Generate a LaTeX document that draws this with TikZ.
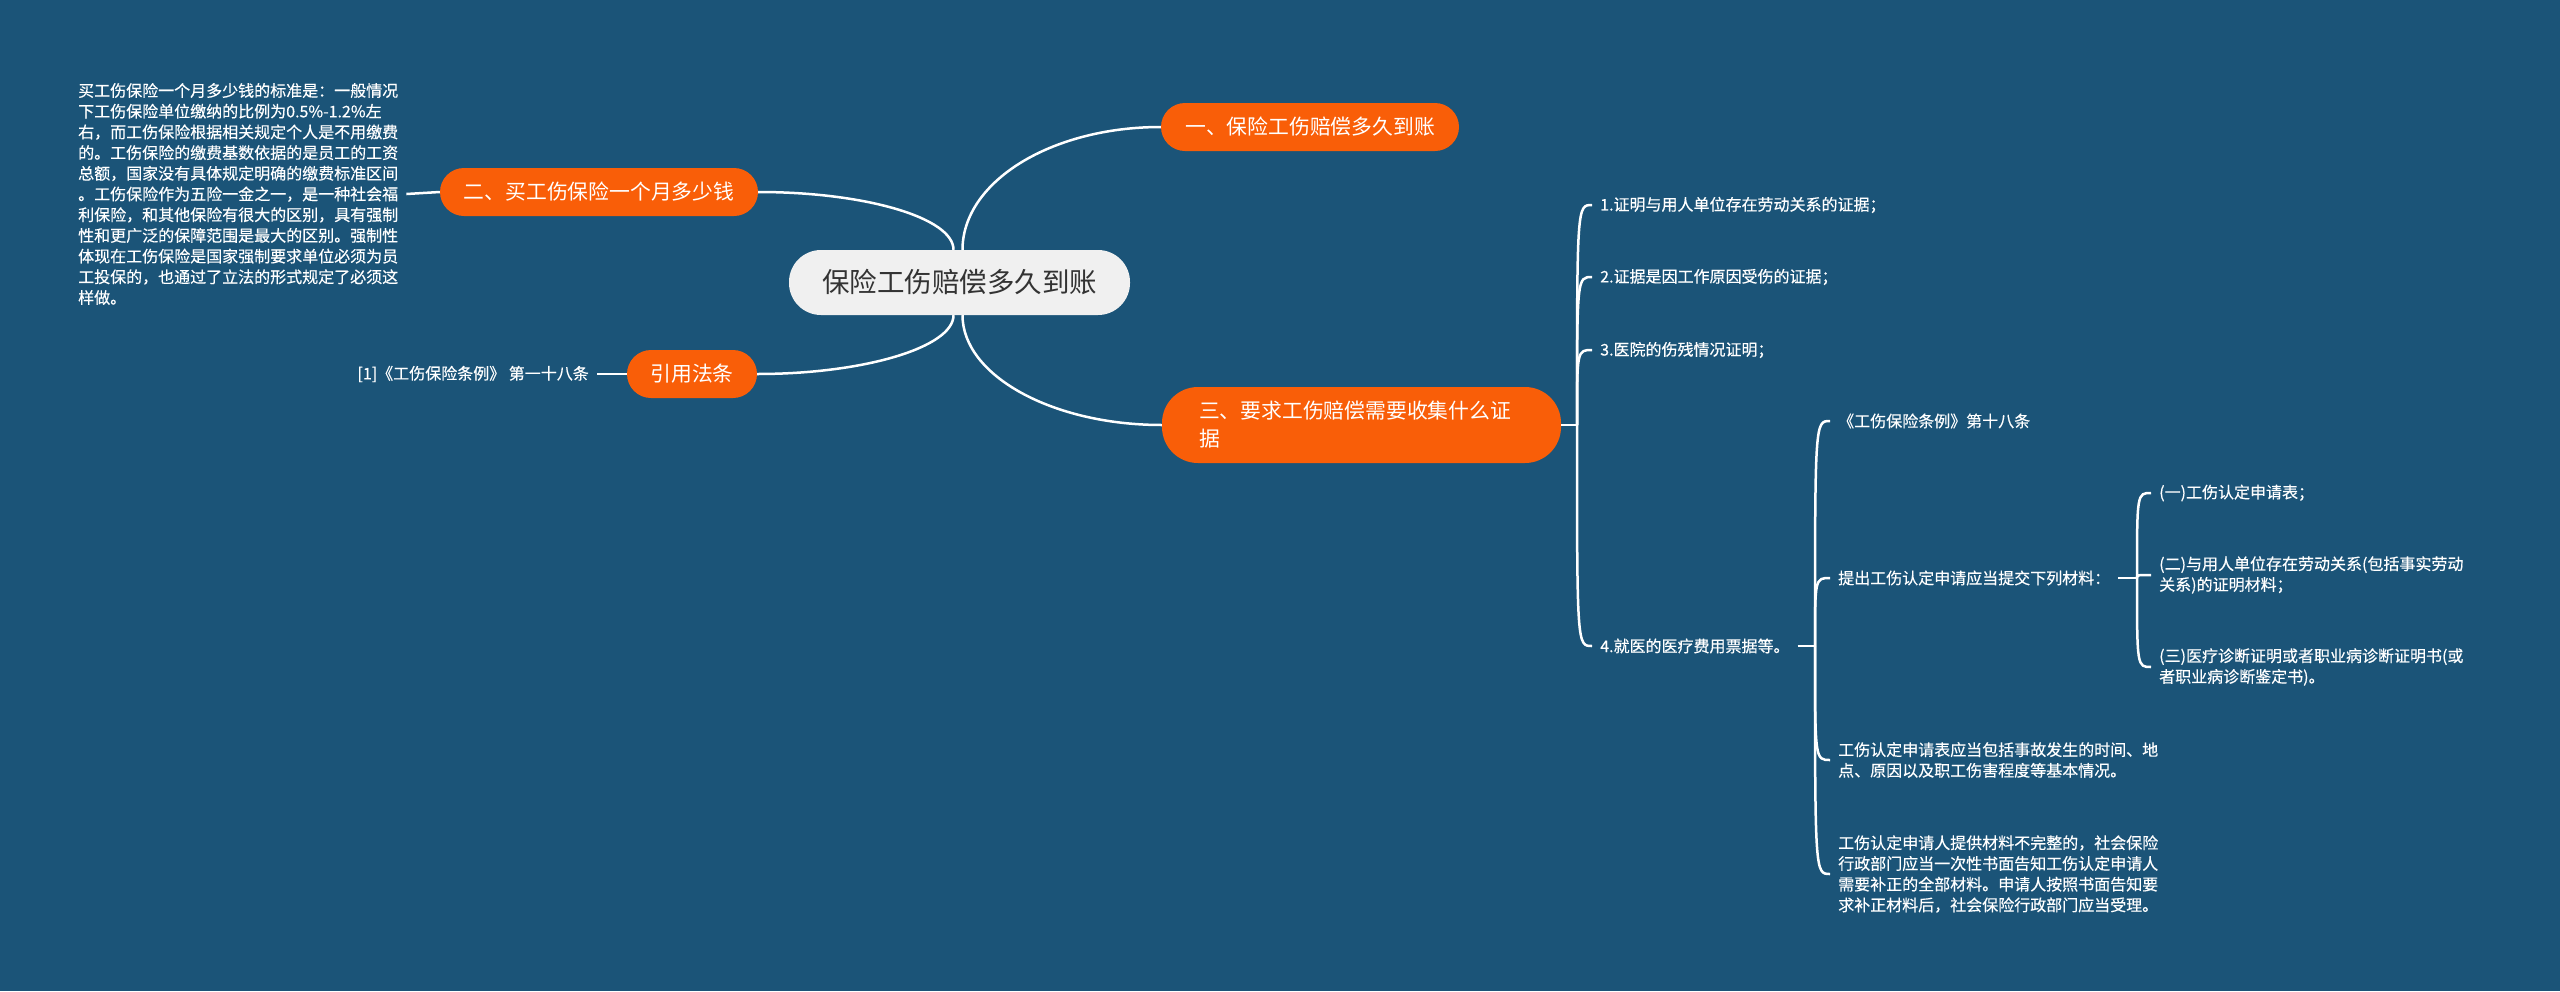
\documentclass[tikz,border=0pt]{standalone}
\usepackage{fontspec}
\setmainfont{Noto Sans CJK SC}
\newfontfamily\leaffont[FakeBold=0.35]{Noto Sans CJK SC}
\definecolor{bg}{RGB}{27,84,120}
\definecolor{orng}{RGB}{249,94,8}
\definecolor{rootgray}{RGB}{240,240,240}
\definecolor{roottext}{RGB}{51,51,51}
\begin{document}
\begin{tikzpicture}[x=1pt,y=-1pt,
  link/.style={draw=white, line width=2.5pt},
  root/.style={fill=rootgray, rounded corners=32pt, minimum width=341pt, minimum height=65pt, text=roottext, font=\fontsize{27.5}{33}\selectfont, inner sep=0pt},
  branch/.style={fill=orng, rounded corners=24pt, minimum height=48pt, text=white, font=\fontsize{20.8}{28}\selectfont, inner sep=0pt},
  leaf/.style={text=white, font=\leaffont\fontsize{16}{20.7}\selectfont, align=left, inner xsep=8pt, inner ysep=2pt},
]
\useasboundingbox (0,0) rectangle (2560,991);
\fill[bg] (0,0) rectangle (2560,991);

% main nodes
\node[root] (c) at (959.5,282.5) {保险工伤赔偿多久到账};
\node[branch, minimum width=298pt] (b1) at (1310,127) {一、保险工伤赔偿多久到账};
\node[branch, minimum width=318pt] (b2) at (599,192) {二、买工伤保险一个月多少钱};
\node[branch, minimum width=130pt] (b4) at (692,374) {引用法条};
\node[branch, minimum height=76pt, rounded corners=36pt, inner xsep=37pt, text width=325pt, align=left] (b3) at (1361.5,425) {三、要求工伤赔偿需要收集什么证\\据};

% left leaves
\node[leaf, anchor=west] (lt) at (70,194) {买工伤保险一个月多少钱的标准是：一般情况\\下工伤保险单位缴纳的比例为0.5\%-1.2\%左\\右，而工伤保险根据相关规定个人是不用缴费\\的。工伤保险的缴费基数依据的是员工的工资\\总额，国家没有具体规定明确的缴费标准区间\\。工伤保险作为五险一金之一，是一种社会福\\利保险，和其他保险有很大的区别，具有强制\\性和更广泛的保障范围是最大的区别。强制性\\体现在工伤保险是国家强制要求单位必须为员\\工投保的，也通过了立法的形式规定了必须这\\样做。};
\node[leaf, anchor=east] (ref) at (597,374) {[1]《工伤保险条例》 第一十八条};

% right leaves level 1
\node[leaf, anchor=west] (l1) at (1592,205) {1.证明与用人单位存在劳动关系的证据；};
\node[leaf, anchor=west] (l2) at (1592,277) {2.证据是因工作原因受伤的证据；};
\node[leaf, anchor=west] (l3) at (1592,350) {3.医院的伤残情况证明；};
\node[leaf, anchor=west] (l4) at (1592,646) {4.就医的医疗费用票据等。};

% level 2
\node[leaf, anchor=west] (m1) at (1830,421) {《工伤保险条例》第十八条};
\node[leaf, anchor=west] (m2) at (1830,578) {提出工伤认定申请应当提交下列材料：};
\node[leaf, anchor=west] (m3) at (1830,760) {工伤认定申请表应当包括事故发生的时间、地\\点、原因以及职工伤害程度等基本情况。};
\node[leaf, anchor=west] (m4) at (1830,874) {工伤认定申请人提供材料不完整的，社会保险\\行政部门应当一次性书面告知工伤认定申请人\\需要补正的全部材料。申请人按照书面告知要\\求补正材料后，社会保险行政部门应当受理。};

% level 3
\node[leaf, anchor=west] (n1) at (2151,493) {(一)工伤认定申请表；};
\node[leaf, anchor=west] (n2) at (2151,575) {(二)与用人单位存在劳动关系(包括事实劳动\\关系)的证明材料；};
\node[leaf, anchor=west] (n3) at (2151,667) {(三)医疗诊断证明或者职业病诊断证明书(或\\者职业病诊断鉴定书)。};

% connectors from root
\draw[link] (b2.east) .. controls +(107,0) and +(0,-32) .. ([xshift=-6pt]c.north);
\draw[link] (b4.east) .. controls +(107,0) and +(0,32) .. ([xshift=-6pt]c.south);
\draw[link] ([xshift=3pt]c.north) .. controls +(0,-68) and +(-110,0) .. (b1.west);
\draw[link] ([xshift=3pt]c.south) .. controls +(0,60) and +(-110,0) .. (b3.west);

% left stubs
\draw[link] (lt.east) -- (b2.west);
\draw[link] (ref.east) -- (b4.west);

% bracket of branch 3
\coordinate (j3) at (1577,425);
\draw[link] (b3.east) -- (j3);
\foreach \t in {l1,l2,l3,l4}{
  \draw[link] (j3) .. controls (j3 |- \t.west) .. (\t.west);
}

% bracket of leaf 4
\coordinate (j4) at (1815,646);
\draw[link] (l4.east) -- (j4);
\foreach \t in {m1,m2,m3,m4}{
  \draw[link] (j4) .. controls (j4 |- \t.west) .. (\t.west);
}

% bracket of m2
\coordinate (j5) at (2137,578);
\draw[link] (m2.east) -- (j5);
\foreach \t in {n1,n2,n3}{
  \draw[link] (j5) .. controls (j5 |- \t.west) .. (\t.west);
}
\end{tikzpicture}
\end{document}
